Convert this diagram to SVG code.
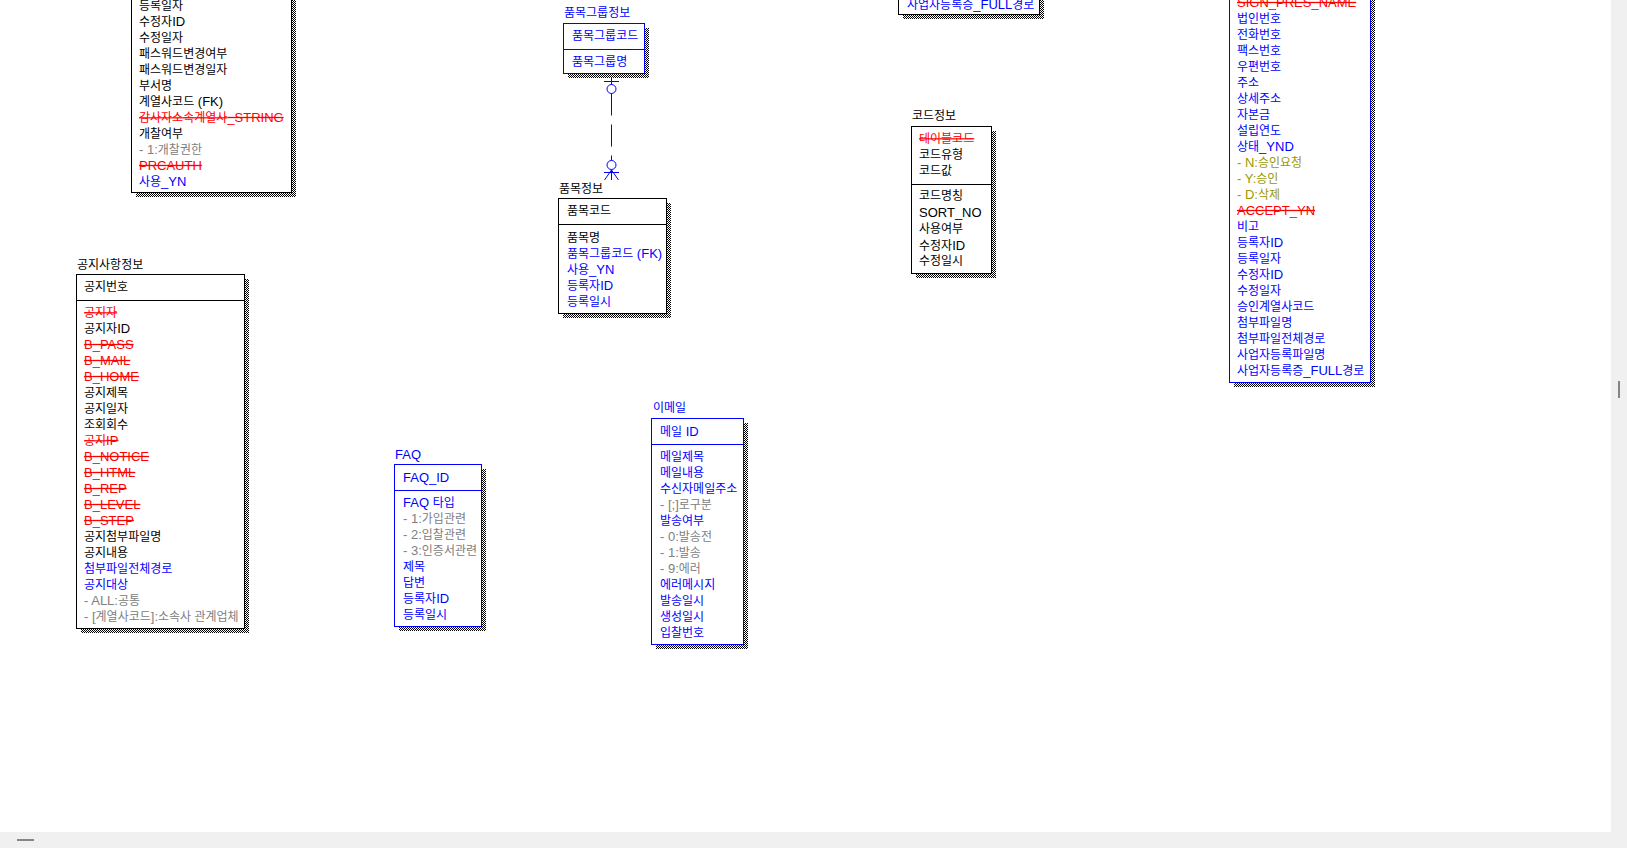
<svg xmlns="http://www.w3.org/2000/svg" width="1627" height="848" viewBox="0 0 1627 848">
<style>
text{font-family:"Liberation Sans","Noto Sans CJK KR",sans-serif;font-size:12px;fill:#000}
.l{font-size:13px}
.bl{fill:#00f}
.rd{fill:#f00}
.gy{fill:#808080}
.ol{fill:#999900}
.s{text-decoration:line-through}
.box{fill:#fff;stroke:#000;stroke-width:1}
.bb{stroke:#00f}
.div{stroke:#000;stroke-width:1}
.divb{stroke:#00f;stroke-width:1}
.sh{fill:url(#chk)}
.rel{stroke:#00f;stroke-width:1;fill:none}
</style>
<defs>
<pattern id="chk" width="2" height="2" patternUnits="userSpaceOnUse">
<rect width="2" height="2" fill="#fff"/>
<rect width="1" height="1" fill="#000"/>
<rect x="1" y="1" width="1" height="1" fill="#000"/>
</pattern>
</defs>
<rect width="1627" height="848" fill="#fff"/>

<g id="connectors">
<path class="rel" d="M611.5 73.5V84.5M604 81.5H619"/>
<circle class="rel" cx="611.5" cy="89" r="4.5" fill="#fff"/>
<path class="rel" d="M611.5 93.5V160.5" stroke-dasharray="22 9"/>
<circle class="rel" cx="611.5" cy="165" r="4.5" fill="#fff"/>
<path class="rel" d="M611.5 169.5V180M604 172.5H619M611.5 170L604.5 180M611.5 170L618.5 180"/>
</g>

<g id="node-user">
<rect class="sh" x="136" y="-2" width="160" height="199"/>
<rect class="box" x="131.5" y="-6.5" width="160" height="199"/>
<text x="139" y="9.5">등록일자</text>
<text x="139" y="25.5">수정자<tspan class="l">ID</tspan></text>
<text x="139" y="41.5">수정일자</text>
<text x="139" y="57.5">패스워드변경여부</text>
<text x="139" y="73.5">패스워드변경일자</text>
<text x="139" y="89.5">부서명</text>
<text x="139" y="105.5">계열사코드<tspan class="l"> (FK)</tspan></text>
<text x="139" y="121.5" class="rd s">감사자소속계열사<tspan class="l">_STRING</tspan></text>
<text x="139" y="137.5">개찰여부</text>
<text x="139" y="153.5" class="gy"><tspan class="l">- 1:</tspan>개찰권한</text>
<text x="139" y="169.5" class="l rd s">PRCAUTH</text>
<text x="139" y="185.5" class="bl">사용<tspan class="l">_YN</tspan></text>
</g>

<g id="node-company-top">
<rect class="sh" x="903" y="-2" width="141" height="21"/>
<rect class="box" x="898.5" y="-6.5" width="141" height="21"/>
<text x="907" y="8.5" class="bl">사업자등록증<tspan class="l">_FULL</tspan>경로</text>
</g>

<g id="node-company">
<rect class="sh" x="1234" y="-2" width="141" height="389"/>
<rect class="box bb" x="1229.5" y="-6.5" width="141" height="389"/>
<text x="1237" y="6.5" class="l rd s">SIGN_PRES_NAME</text>
<text x="1237" y="22.5" class="bl">법인번호</text>
<text x="1237" y="38.5" class="bl">전화번호</text>
<text x="1237" y="54.5" class="bl">팩스번호</text>
<text x="1237" y="70.5" class="bl">우편번호</text>
<text x="1237" y="86.5" class="bl">주소</text>
<text x="1237" y="102.5" class="bl">상세주소</text>
<text x="1237" y="118.5" class="bl">자본금</text>
<text x="1237" y="134.5" class="bl">설립연도</text>
<text x="1237" y="150.5" class="bl">상태<tspan class="l">_YND</tspan></text>
<text x="1237" y="166.5" class="ol"><tspan class="l">- N:</tspan>승인요청</text>
<text x="1237" y="182.5" class="ol"><tspan class="l">- Y:</tspan>승인</text>
<text x="1237" y="198.5" class="ol"><tspan class="l">- D:</tspan>삭제</text>
<text x="1237" y="214.5" class="l rd s">ACCEPT_YN</text>
<text x="1237" y="230.5" class="bl">비고</text>
<text x="1237" y="246.5" class="bl">등록자<tspan class="l">ID</tspan></text>
<text x="1237" y="262.5" class="bl">등록일자</text>
<text x="1237" y="278.5" class="bl">수정자<tspan class="l">ID</tspan></text>
<text x="1237" y="294.5" class="bl">수정일자</text>
<text x="1237" y="310.5" class="bl">승인계열사코드</text>
<text x="1237" y="326.5" class="bl">첨부파일명</text>
<text x="1237" y="342.5" class="bl">첨부파일전체경로</text>
<text x="1237" y="358.5" class="bl">사업자등록파일명</text>
<text x="1237" y="374.5" class="bl">사업자등록증<tspan class="l">_FULL</tspan>경로</text>
</g>

<g id="node-itemgroup">
<text x="564" y="17" class="bl">품목그룹정보</text>
<rect class="sh" x="568" y="28" width="81" height="50"/>
<rect class="box bb" x="563.5" y="23.5" width="81" height="50"/>
<line class="divb" x1="563.5" y1="49.5" x2="644.5" y2="49.5"/>
<text x="572" y="40" class="bl">품목그룹코드</text>
<text x="572" y="66" class="bl">품목그룹명</text>
</g>

<g id="node-item">
<text x="559" y="192.5">품목정보</text>
<rect class="sh" x="563" y="203" width="108" height="115"/>
<rect class="box" x="558.5" y="198.5" width="108" height="115"/>
<line class="div" x1="558.5" y1="224.5" x2="666.5" y2="224.5"/>
<text x="567" y="215">품목코드</text>
<text x="567" y="242">품목명</text>
<text x="567" y="258" class="bl">품목그룹코드<tspan class="l"> (FK)</tspan></text>
<text x="567" y="274" class="bl">사용<tspan class="l">_YN</tspan></text>
<text x="567" y="290" class="bl">등록자<tspan class="l">ID</tspan></text>
<text x="567" y="306" class="bl">등록일시</text>
</g>

<g id="node-code">
<text x="912" y="119.5">코드정보</text>
<rect class="sh" x="916" y="131" width="80" height="147"/>
<rect class="box" x="911.5" y="126.5" width="80" height="147"/>
<line class="div" x1="911.5" y1="184.5" x2="991.5" y2="184.5"/>
<text x="919" y="142.5" class="rd s">테이블코드</text>
<text x="919" y="158.5">코드유형</text>
<text x="919" y="174.5">코드값</text>
<text x="919" y="200">코드명칭</text>
<text x="919" y="217" class="l">SORT_NO</text>
<text x="919" y="233">사용여부</text>
<text x="919" y="249.5">수정자<tspan class="l">ID</tspan></text>
<text x="919" y="264.5">수정일시</text>
</g>

<g id="node-notice">
<text x="77" y="268.5">공지사항정보</text>
<rect class="sh" x="81" y="279" width="168" height="354"/>
<rect class="box" x="76.5" y="274.5" width="168" height="354"/>
<line class="div" x1="76.5" y1="300.5" x2="244.5" y2="300.5"/>
<text x="84" y="290.5">공지번호</text>
<text x="84" y="316.5" class="rd s">공지자</text>
<text x="84" y="332.5">공지자<tspan class="l">ID</tspan></text>
<text x="84" y="348.5" class="l rd s">B_PASS</text>
<text x="84" y="364.5" class="l rd s">B_MAIL</text>
<text x="84" y="380.5" class="l rd s">B_HOME</text>
<text x="84" y="396.5">공지제목</text>
<text x="84" y="412.5">공지일자</text>
<text x="84" y="428.5">조회회수</text>
<text x="84" y="444.5" class="rd s">공지<tspan class="l">IP</tspan></text>
<text x="84" y="460.5" class="l rd s">B_NOTICE</text>
<text x="84" y="476.5" class="l rd s">B_HTML</text>
<text x="84" y="492.5" class="l rd s">B_REP</text>
<text x="84" y="508.5" class="l rd s">B_LEVEL</text>
<text x="84" y="524.5" class="l rd s">B_STEP</text>
<text x="84" y="540.5">공지첨부파일명</text>
<text x="84" y="556.5">공지내용</text>
<text x="84" y="572.5" class="bl">첨부파일전체경로</text>
<text x="84" y="588.5" class="bl">공지대상</text>
<text x="84" y="604.5" class="gy"><tspan class="l">- ALL:</tspan>공통</text>
<text x="84" y="620.5" class="gy"><tspan class="l">- [</tspan>계열사코드<tspan class="l">]:</tspan>소속사 관계업체</text>
</g>

<g id="node-faq">
<text x="395" y="458.5" class="l bl">FAQ</text>
<rect class="sh" x="399" y="469" width="87" height="162"/>
<rect class="box bb" x="394.5" y="464.5" width="87" height="162"/>
<line class="divb" x1="394.5" y1="490.5" x2="481.5" y2="490.5"/>
<text x="403" y="482" class="l bl">FAQ_ID</text>
<text x="403" y="506.5" class="bl"><tspan class="l">FAQ </tspan>타입</text>
<text x="403" y="522.5" class="gy"><tspan class="l">- 1:</tspan>가입관련</text>
<text x="403" y="538.5" class="gy"><tspan class="l">- 2:</tspan>입찰관련</text>
<text x="403" y="554.5" class="gy"><tspan class="l">- 3:</tspan>인증서관련</text>
<text x="403" y="570.5" class="bl">제목</text>
<text x="403" y="586.5" class="bl">답변</text>
<text x="403" y="602.5" class="bl">등록자<tspan class="l">ID</tspan></text>
<text x="403" y="618.5" class="bl">등록일시</text>
</g>

<g id="node-email">
<text x="653" y="412" class="bl">이메일</text>
<rect class="sh" x="656" y="423" width="92" height="226"/>
<rect class="box bb" x="651.5" y="418.5" width="92" height="226"/>
<line class="divb" x1="651.5" y1="444.5" x2="743.5" y2="444.5"/>
<text x="660" y="436" class="bl">메일<tspan class="l"> ID</tspan></text>
<text x="660" y="461" class="bl">메일제목</text>
<text x="660" y="477" class="bl">메일내용</text>
<text x="660" y="493" class="bl">수신자메일주소</text>
<text x="660" y="509" class="gy"><tspan class="l">- [;]</tspan>로구분</text>
<text x="660" y="525" class="bl">발송여부</text>
<text x="660" y="541" class="gy"><tspan class="l">- 0:</tspan>발송전</text>
<text x="660" y="557" class="gy"><tspan class="l">- 1:</tspan>발송</text>
<text x="660" y="573" class="gy"><tspan class="l">- 9:</tspan>에러</text>
<text x="660" y="589" class="bl">에러메시지</text>
<text x="660" y="605" class="bl">발송일시</text>
<text x="660" y="621" class="bl">생성일시</text>
<text x="660" y="637" class="bl">입찰번호</text>
</g>

<g id="scrollbars">
<rect x="1611" y="0" width="16" height="848" fill="#f0f0f0"/>
<rect x="0" y="832" width="1627" height="16" fill="#f0f0f0"/>
<rect x="1618" y="381" width="2" height="17" fill="#858585"/>
<rect x="17" y="839" width="17" height="2" fill="#858585"/>
</g>
</svg>
